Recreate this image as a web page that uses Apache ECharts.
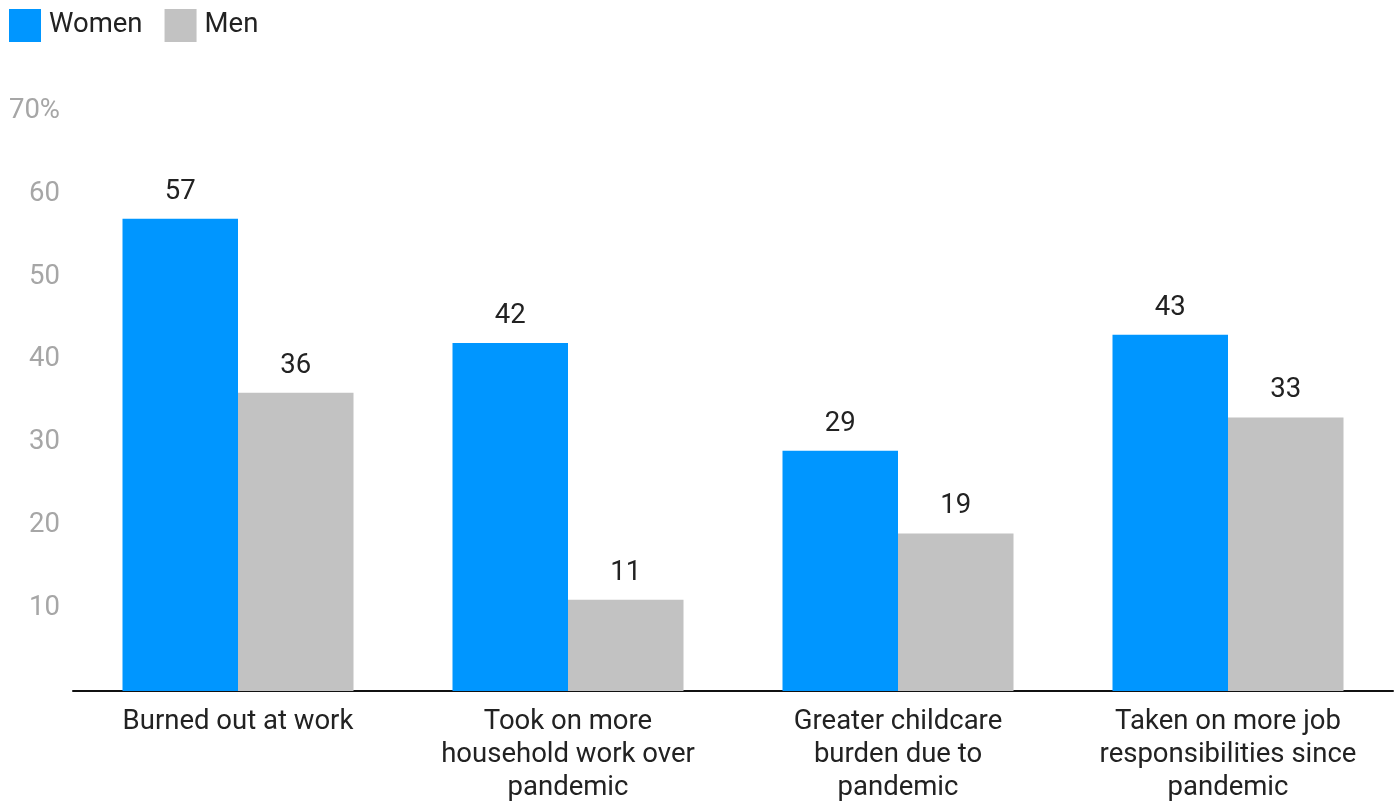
<!DOCTYPE html>
<html>
<head>
<meta charset="UTF-8">
<title>Women vs men</title>
<script src="https://cdn.jsdelivr.net/npm/echarts@6/dist/echarts.min.js"></script>
<style>
    html, body {
        margin: 0;
        padding: 0;
        background: #fff;
    }

    #chart {
        width: 1395px;
        height: 805px;
    }
</style>
</head>
<body>
<div id="chart"></div>
<script type="text/javascript">
    let categories = [
        'Burned out at work',
        'Took on more\nhousehold work over\npandemic',
        'Greater childcare\nburden due to\npandemic',
        'Taken on more job\nresponsibilities since\npandemic'
    ];
    let womenValues = [57, 42, 29, 43];
    let menValues = [36, 11, 19, 33];
    let yTicks = [0, 10, 20, 30, 40, 50, 60, 70];

    let chart = echarts.init(document.getElementById('chart'));
    let font = 'Roboto, "Noto Sans", sans-serif';

    let option = {
        backgroundColor: '#ffffff',
        animation: false,
        textStyle: {fontFamily: font},
        legend: {
            left: 4,
            top: 4,
            itemWidth: 32,
            itemHeight: 33,
            itemGap: 22,
            icon: 'rect',
            textStyle: {fontSize: 27.5, color: '#222', fontFamily: font, padding: [0, 0, 0, 3]},
            data: ['Women', 'Men']
        },
        grid: {
            left: 73,
            right: 2,
            top: 111,
            bottom: 112
        },
        xAxis: {
            type: 'category',
            data: categories,
            axisLine: {lineStyle: {color: '#111', width: 2}},
            axisTick: {show: false},
            axisLabel: {
                interval: 0,
                margin: 15,
                fontSize: 27.5,
                lineHeight: 33,
                color: '#222',
                fontFamily: font
            }
        },
        yAxis: {
            type: 'value',
            min: yTicks[0],
            max: yTicks[yTicks.length - 1],
            interval: 10,
            splitLine: {show: false},
            axisLine: {show: false},
            axisTick: {show: false},
            axisLabel: {
                margin: 13,
                fontSize: 27.5,
                color: '#a6a6a6',
                fontFamily: font,
                formatter: function (v) {
                    if (v === 0) return '';
                    if (v === 70) return v + '%';
                    return String(v);
                }
            }
        },
        series: [
            {
                name: 'Women',
                type: 'bar',
                barGap: 0,
                barCategoryGap: '30%',
                itemStyle: {color: '#0096ff'},
                label: {
                    show: true,
                    position: 'top',
                    distance: 13,
                    fontSize: 27.5,
                    color: '#222',
                    fontFamily: font
                },
                data: womenValues
            },
            {
                name: 'Men',
                type: 'bar',
                barGap: 0,
                barCategoryGap: '30%',
                itemStyle: {color: '#c2c2c2'},
                label: {
                    show: true,
                    position: 'top',
                    distance: 13,
                    fontSize: 27.5,
                    color: '#222',
                    fontFamily: font
                },
                data: menValues
            }
        ]
    };
    chart.setOption(option);
</script>
</body>
</html>
